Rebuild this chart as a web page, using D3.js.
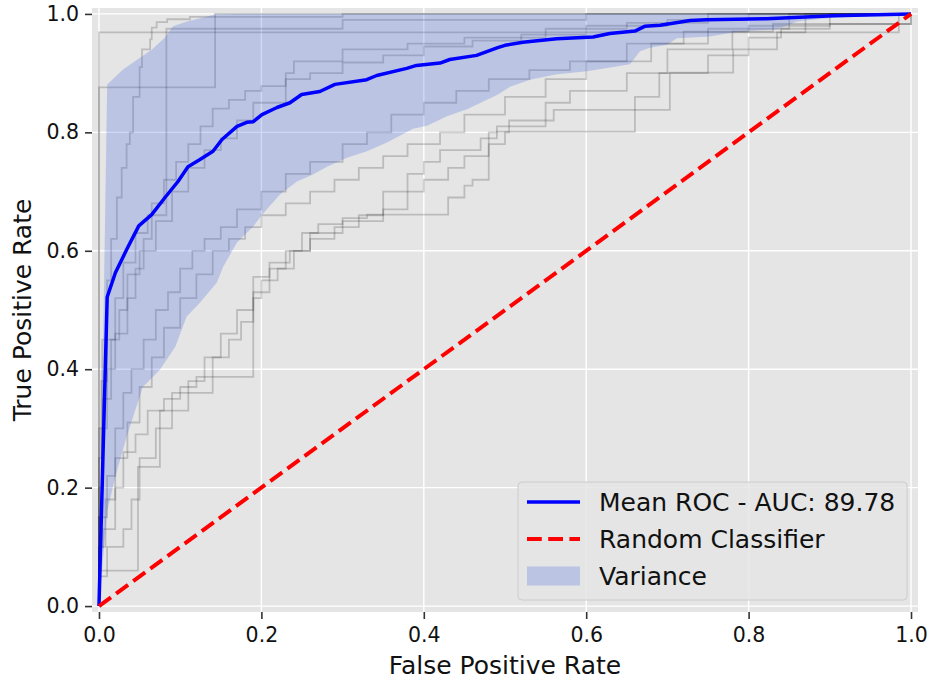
<!DOCTYPE html>
<html>
<head>
<meta charset="utf-8">
<script src="https://cdn.jsdelivr.net/npm/d3@7"></script>
<style>
  html, body { margin: 0; padding: 0; background: #ffffff; }
  svg { display: block; font-family: "DejaVu Sans", sans-serif; }
</style>
</head>
<body>
<svg id="chart" width="930" height="682"></svg>
<script>
// Axis ticks
const tickValues = [0, 0.2, 0.4, 0.6, 0.8, 1.0];
const tickLabels = ["0.0", "0.2", "0.4", "0.6", "0.8", "1.0"];

// Per-fold ROC curves (step corners: fpr where each tpr level ends)
const fold1Fpr = [0, 0.143, 1.0];
const fold1Tpr = [0, 0.876, 1.0];
const fold2Fpr = [0, 0.985, 1.0];
const fold2Tpr = [0, 0.969, 1.0];
const fold3Fpr = [0, 0.004, 0.010, 0.015, 0.022, 0.028, 0.034, 0.038, 0.042, 0.050, 0.053, 0.063, 0.065, 0.071, 0.084, 0.112, 0.30, 1.0];
const fold3Tpr = [0, 0.30, 0.45, 0.55, 0.62, 0.69, 0.74, 0.78, 0.80, 0.86, 0.91, 0.94, 0.957, 0.977, 0.986, 0.991, 0.995, 1.0];
const fold4Fpr = [0, 0.003, 0.010, 0.020, 0.035, 0.045, 0.055, 0.065, 0.080, 0.095, 0.110, 0.125, 0.140, 0.160, 0.180, 0.200, 0.230, 0.260, 0.300, 0.350, 0.400, 0.460, 0.520, 0.600, 0.700, 0.800, 1.0];
const fold4Tpr = [0, 0.15, 0.30, 0.40, 0.46, 0.52, 0.57, 0.62, 0.68, 0.72, 0.75, 0.78, 0.81, 0.84, 0.855, 0.87, 0.878, 0.89, 0.90, 0.918, 0.93, 0.945, 0.955, 0.965, 0.98, 0.99, 1.0];
const fold5Fpr = [0, 0.003, 0.010, 0.020, 0.030, 0.045, 0.060, 0.083, 0.300, 0.600, 1.0];
const fold5Tpr = [0, 0.25, 0.38, 0.45, 0.52, 0.58, 0.63, 0.66, 0.975, 0.99, 1.0];
const fold6Fpr = [0, 0.005, 0.015, 0.025, 0.035, 0.050, 0.070, 0.090, 0.110, 0.130, 0.150, 0.170, 0.190, 0.230, 0.240, 0.300, 0.380, 0.450, 0.550, 0.650, 0.750, 1.0];
const fold6Tpr = [0, 0.20, 0.35, 0.45, 0.50, 0.56, 0.60, 0.65, 0.70, 0.74, 0.77, 0.79, 0.82, 0.85, 0.90, 0.92, 0.94, 0.95, 0.96, 0.975, 0.985, 1.0];
const fold7Fpr = [0, 0.010, 0.020, 0.030, 0.040, 0.055, 0.070, 0.085, 0.100, 0.115, 0.130, 0.150, 0.170, 0.200, 0.230, 0.260, 0.300, 0.330, 0.360, 0.400, 0.440, 0.480, 0.530, 0.580, 0.650, 0.720, 0.800, 0.900, 1.0];
const fold7Tpr = [0, 0.15, 0.22, 0.30, 0.36, 0.40, 0.45, 0.50, 0.53, 0.57, 0.60, 0.62, 0.64, 0.67, 0.70, 0.73, 0.75, 0.78, 0.80, 0.83, 0.85, 0.87, 0.89, 0.905, 0.92, 0.95, 0.97, 0.98, 1.0];
const fold8Fpr = [0, 0.010, 0.030, 0.040, 0.050, 0.070, 0.090, 0.110, 0.130, 0.150, 0.170, 0.190, 0.210, 0.230, 0.250, 0.270, 0.300, 0.330, 0.430, 0.450, 0.460, 0.480, 0.490, 0.550, 0.580, 0.650, 0.700, 0.780, 0.830, 0.870, 1.0];
const fold8Tpr = [0, 0.05, 0.10, 0.13, 0.18, 0.25, 0.30, 0.33, 0.38, 0.42, 0.46, 0.50, 0.53, 0.57, 0.60, 0.63, 0.645, 0.655, 0.661, 0.69, 0.71, 0.72, 0.80, 0.81, 0.85, 0.87, 0.90, 0.94, 0.97, 0.983, 1.0];
const fold9Fpr = [0, 0.048, 0.075, 0.090, 0.140, 0.160, 0.175, 0.190, 0.200, 0.220, 0.240, 0.260, 0.290, 0.320, 0.350, 0.380, 0.400, 0.420, 0.470, 0.490, 0.660, 0.690, 0.750, 0.800, 0.840, 0.900, 1.0, 1.0];
const fold9Tpr = [0, 0.06, 0.235, 0.33, 0.36, 0.42, 0.45, 0.48, 0.52, 0.55, 0.57, 0.60, 0.62, 0.64, 0.66, 0.70, 0.73, 0.75, 0.77, 0.79, 0.801, 0.86, 0.90, 0.93, 0.96, 0.975, 0.983, 1.0];
const fold10Fpr = [0, 0.005, 0.020, 0.030, 0.045, 0.060, 0.080, 0.100, 0.120, 0.190, 0.210, 0.235, 0.260, 0.300, 0.350, 0.380, 0.400, 0.430, 0.450, 0.480, 0.500, 0.505, 0.560, 0.703, 0.781, 0.835, 0.870, 1.0, 1.0];
const fold10Tpr = [0, 0.10, 0.13, 0.20, 0.26, 0.29, 0.33, 0.35, 0.37, 0.387, 0.556, 0.58, 0.60, 0.63, 0.65, 0.67, 0.70, 0.72, 0.74, 0.76, 0.78, 0.80, 0.82, 0.838, 0.901, 0.94, 0.969, 0.983, 1.0];
const fold11Fpr = [0, 0.008, 0.020, 0.035, 0.050, 0.065, 0.080, 0.100, 0.120, 0.140, 0.160, 0.180, 0.200, 0.230, 0.260, 0.290, 0.320, 0.350, 0.380, 0.420, 0.450, 0.500, 0.550, 0.600, 0.680, 0.750, 0.850, 1.0];
const fold11Tpr = [0, 0.10, 0.18, 0.25, 0.31, 0.37, 0.42, 0.47, 0.52, 0.56, 0.60, 0.62, 0.64, 0.66, 0.68, 0.70, 0.72, 0.74, 0.76, 0.78, 0.80, 0.83, 0.86, 0.89, 0.92, 0.95, 0.975, 1.0];

// Mean ROC across folds
const meanFpr = [0, 0.0101, 0.0202, 0.0341, 0.049, 0.0649, 0.0813, 0.0973, 0.1096, 0.1244, 0.1404, 0.1515, 0.170, 0.182, 0.190, 0.2007, 0.2192, 0.2352, 0.2496, 0.272, 0.2906, 0.3297, 0.342, 0.379, 0.391, 0.420, 0.432, 0.465, 0.491, 0.500, 0.522, 0.5637, 0.6084, 0.629, 0.660, 0.672, 0.691, 0.728, 0.748, 0.822, 0.904, 1.0];
const meanTpr = [0, 0.522, 0.563, 0.602, 0.642, 0.661, 0.690, 0.717, 0.742, 0.754, 0.768, 0.788, 0.810, 0.817, 0.818, 0.830, 0.842, 0.850, 0.864, 0.869, 0.881, 0.889, 0.896, 0.908, 0.913, 0.917, 0.923, 0.930, 0.943, 0.947, 0.952, 0.958, 0.961, 0.967, 0.971, 0.979, 0.981, 0.989, 0.990, 0.992, 0.997, 1.0];

// Variance band edges (mean +/- std, clipped to [0, 1])
const upperFpr = [0, 0.0101, 0.0296, 0.0505, 0.0653, 0.0813, 0.0911, 0.1084, 0.1429, 0.17, 1.0];
const upperTpr = [0, 0.881, 0.906, 0.926, 0.940, 0.960, 0.979, 0.987, 0.999, 1.0, 1.0];
const lowerFpr = [0, 0.0101, 0.020, 0.034, 0.050, 0.054, 0.075, 0.094, 0.108, 0.124, 0.145, 0.153, 0.170, 0.190, 0.2007, 0.2229, 0.2438, 0.2635, 0.2808, 0.3054, 0.3300, 0.3547, 0.3867, 0.4039, 0.4286, 0.4532, 0.4778, 0.4914, 0.5062, 0.5308, 0.5640, 0.6010, 0.6539, 0.6663, 0.6786, 0.6995, 0.7118, 0.7525, 0.7857, 0.8350, 0.8596, 0.8842, 0.9089, 1.0];
const lowerTpr = [0, 0.16, 0.218, 0.286, 0.353, 0.37, 0.399, 0.438, 0.489, 0.512, 0.546, 0.573, 0.614, 0.641, 0.661, 0.695, 0.717, 0.729, 0.742, 0.757, 0.768, 0.783, 0.806, 0.811, 0.827, 0.839, 0.855, 0.864, 0.877, 0.889, 0.898, 0.903, 0.915, 0.937, 0.943, 0.948, 0.959, 0.962, 0.970, 0.974, 0.987, 0.991, 0.994, 1.0];

// Chance diagonal
const chanceFpr = [0, 1];
const chanceTpr = [0, 1];

// Legend entries
const legendLabels = ["Mean ROC - AUC: 89.78", "Random Classifier", "Variance"];

const folds = [
  [fold1Fpr, fold1Tpr], [fold2Fpr, fold2Tpr], [fold3Fpr, fold3Tpr], [fold4Fpr, fold4Tpr],
  [fold5Fpr, fold5Tpr], [fold6Fpr, fold6Tpr], [fold7Fpr, fold7Tpr], [fold8Fpr, fold8Tpr],
  [fold9Fpr, fold9Tpr], [fold10Fpr, fold10Tpr], [fold11Fpr, fold11Tpr]
];
const zip = (xs, ys) => xs.map((x, i) => [x, ys[i]]);

const svg = d3.select("#chart");
const plot = { left: 92, right: 918, top: 8, bottom: 612 };

const x = d3.scaleLinear().domain([-0.0086, 1.0086]).range([plot.left, plot.right]);
const y = d3.scaleLinear().domain([-0.01, 1.01]).range([plot.bottom, plot.top]);

svg.append("defs").append("clipPath").attr("id", "plotClip")
  .append("rect")
  .attr("x", plot.left).attr("y", plot.top)
  .attr("width", plot.right - plot.left).attr("height", plot.bottom - plot.top);

// Panel background
svg.append("rect")
  .attr("x", plot.left).attr("y", plot.top)
  .attr("width", plot.right - plot.left).attr("height", plot.bottom - plot.top)
  .attr("fill", "#E5E5E5");

// Grid
const grid = svg.append("g");
grid.selectAll("line.vx").data(tickValues).join("line")
  .attr("x1", d => x(d)).attr("x2", d => x(d))
  .attr("y1", plot.top).attr("y2", plot.bottom)
  .attr("stroke", "#ffffff").attr("stroke-width", 1.4);
grid.selectAll("line.hy").data(tickValues).join("line")
  .attr("y1", d => y(d)).attr("y2", d => y(d))
  .attr("x1", plot.left).attr("x2", plot.right)
  .attr("stroke", "#ffffff").attr("stroke-width", 1.4);

// Axes with outward ticks
const xAxis = d3.axisBottom(x).tickValues(tickValues).tickFormat((d, i) => tickLabels[i]).tickSize(7).tickPadding(8);
const yAxis = d3.axisLeft(y).tickValues(tickValues).tickFormat((d, i) => tickLabels[i]).tickSize(7).tickPadding(6);

const gx = svg.append("g").attr("transform", `translate(0,${plot.bottom})`).call(xAxis);
const gy = svg.append("g").attr("transform", `translate(${plot.left},0)`).call(yAxis);
[gx, gy].forEach(g => {
  g.select(".domain").remove();
  g.selectAll(".tick line").attr("stroke", "#333").attr("stroke-width", 1.6);
  g.selectAll(".tick text").attr("fill", "#111").attr("font-size", "20.5px")
    .attr("font-family", "DejaVu Sans, sans-serif");
});

const layer = svg.append("g").attr("clip-path", "url(#plotClip)");

// Fold curves
const stepLine = d3.line().x(d => x(d[0])).y(d => y(d[1])).curve(d3.curveStepBefore);
layer.append("g").selectAll("path").data(folds).join("path")
  .attr("d", f => stepLine(zip(f[0], f[1])))
  .attr("fill", "none")
  .attr("stroke", "#000000")
  .attr("stroke-opacity", 0.18)
  .attr("stroke-width", 1.8);

// Variance band
const bandPts = zip(upperFpr, upperTpr).concat(zip(lowerFpr, lowerTpr).reverse());
layer.append("path")
  .attr("d", d3.line().x(d => x(d[0])).y(d => y(d[1]))(bandPts) + "Z")
  .attr("fill", "#4169E1").attr("fill-opacity", 0.25).attr("stroke", "none");

// Mean ROC
const lin = d3.line().x(d => x(d[0])).y(d => y(d[1]));
layer.append("path")
  .attr("d", lin(zip(meanFpr, meanTpr)))
  .attr("fill", "none").attr("stroke", "#0000FF").attr("stroke-width", 3.5)
  .attr("stroke-linejoin", "round");

// Random classifier diagonal
layer.append("path")
  .attr("d", lin(zip(chanceFpr, chanceTpr)))
  .attr("fill", "none").attr("stroke", "#FF0000").attr("stroke-width", 4)
  .attr("stroke-dasharray", "14.8,6.4");

// Axis titles
svg.append("text")
  .attr("x", (plot.left + plot.right) / 2).attr("y", 674)
  .attr("text-anchor", "middle").attr("font-size", "25px").attr("fill", "#111")
  .text("False Positive Rate");
svg.append("text")
  .attr("transform", `translate(31,${(plot.top + plot.bottom) / 2}) rotate(-90)`)
  .attr("text-anchor", "middle").attr("font-size", "25px").attr("fill", "#111")
  .text("True Positive Rate");

// Legend
const lg = svg.append("g");
lg.append("rect")
  .attr("x", 518).attr("y", 482).attr("width", 389).attr("height", 118)
  .attr("rx", 4).attr("ry", 4)
  .attr("fill", "#E5E5E5").attr("fill-opacity", 0.85)
  .attr("stroke", "#CCCCCC").attr("stroke-width", 1);
const rowY = [502, 539, 576];
lg.append("line").attr("x1", 527).attr("x2", 580).attr("y1", rowY[0]).attr("y2", rowY[0])
  .attr("stroke", "#0000FF").attr("stroke-width", 3.5);
lg.append("line").attr("x1", 527).attr("x2", 580).attr("y1", rowY[1]).attr("y2", rowY[1])
  .attr("stroke", "#FF0000").attr("stroke-width", 4).attr("stroke-dasharray", "14.8,6.4");
lg.append("rect").attr("x", 527).attr("y", rowY[2] - 9.5).attr("width", 53).attr("height", 19)
  .attr("fill", "#4169E1").attr("fill-opacity", 0.25);
lg.selectAll("text").data(legendLabels).join("text")
  .attr("x", 599).attr("y", (d, i) => rowY[i] + 9.1)
  .attr("font-size", "25px").attr("fill", "#111")
  .text(d => d);
</script>
</body>
</html>
